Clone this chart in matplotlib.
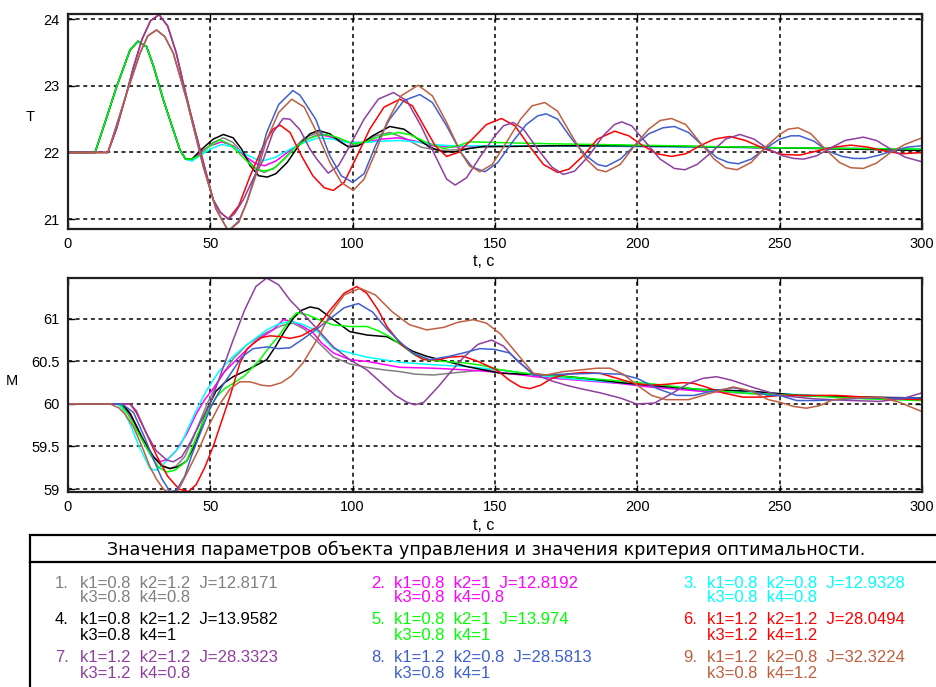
import matplotlib
matplotlib.use("Agg")
import matplotlib.pyplot as plt
from matplotlib.patches import Rectangle
from matplotlib.lines import Line2D

W, H = 937, 687

# ---- series styling / legend content ----
colors = ['#808080', '#ff00ff', '#00ffff', '#000000', '#00ff00',
          '#ff0000', '#8f3f9f', '#3f5fcf', '#bf5f3f']
params_line1 = ['k1=0.8  k2=1.2  J=12.8171', 'k1=0.8  k2=1  J=12.8192', 'k1=0.8  k2=0.8  J=12.9328',
                'k1=0.8  k2=1.2  J=13.9582', 'k1=0.8  k2=1  J=13.974', 'k1=1.2  k2=1.2  J=28.0494',
                'k1=1.2  k2=1.2  J=28.3323', 'k1=1.2  k2=0.8  J=28.5813', 'k1=1.2  k2=0.8  J=32.3224']
params_line2 = ['k3=0.8  k4=0.8', 'k3=0.8  k4=0.8', 'k3=0.8  k4=0.8',
                'k3=0.8  k4=1', 'k3=0.8  k4=1', 'k3=1.2  k4=1.2',
                'k3=1.2  k4=0.8', 'k3=0.8  k4=1', 'k3=0.8  k4=1.2']
legend_title = 'Значения параметров объекта управления и значения критерия оптимальности.'

# ---- temperature T(t) ----
hump_t = [0, 9.5, 13, 17.1, 21.8, 24.6, 27.6, 30, 33.5, 36.5, 39.3, 41.3]
hump_T = [22, 22, 22.45, 22.99, 23.54, 23.67, 23.59, 23.3, 22.79, 22.4, 22.04, 21.9]

tT1 = hump_t + [43.5, 47, 51, 54.6, 58, 62, 66, 69, 73, 78, 83, 88, 93, 98, 103, 108, 113, 118, 124, 130, 136, 145, 160, 200, 250, 300]
T1 = hump_T + [21.88, 22.0, 22.15, 22.22, 22.15, 21.95, 21.75, 21.7, 21.78, 22.0, 22.22, 22.3, 22.22, 22.1, 22.12, 22.25, 22.3, 22.22, 22.08, 22.03, 22.04, 22.08, 22.1, 22.1, 22.07, 22.04]

tT2 = hump_t + [43.5, 47, 50, 54, 58, 62, 66, 69, 73, 78, 83, 88, 93, 98, 104, 110, 116, 122, 128, 134, 145, 170, 200, 250, 300]
T2 = hump_T + [21.88, 22.02, 22.1, 22.16, 22.1, 21.95, 21.83, 21.8, 21.87, 22.03, 22.18, 22.27, 22.23, 22.15, 22.15, 22.2, 22.22, 22.17, 22.1, 22.08, 22.1, 22.1, 22.09, 22.07, 22.05]

tT3 = hump_t + [43.5, 47, 50, 54, 58, 62, 66, 69, 73, 78, 83, 88, 93, 98, 104, 110, 116, 122, 128, 135, 145, 170, 200, 250, 300]
T3 = hump_T + [21.87, 21.97, 22.05, 22.12, 22.08, 21.98, 21.9, 21.88, 21.93, 22.05, 22.15, 22.22, 22.2, 22.15, 22.15, 22.17, 22.18, 22.16, 22.12, 22.1, 22.1, 22.1, 22.09, 22.07, 22.05]

tT4 = hump_t + [43.5, 47, 51, 54.6, 58, 61, 64, 67, 70, 73, 77, 81, 85, 88, 92, 95, 98.6, 102, 107, 113, 118, 123, 127, 131.8, 136, 141, 146, 155, 170, 200, 250, 300]
T4 = hump_T + [21.9, 22.05, 22.2, 22.27, 22.22, 22.05, 21.8, 21.65, 21.63, 21.68, 21.85, 22.1, 22.28, 22.33, 22.28, 22.18, 22.08, 22.1, 22.25, 22.39, 22.35, 22.2, 22.08, 22.01, 22.01, 22.06, 22.09, 22.09, 22.1, 22.1, 22.07, 22.03]

tT5 = hump_t + [43.4, 46, 49, 53.4, 57, 61, 65, 68.6, 72, 76, 80, 84, 87.4, 91, 95, 100, 104, 110, 116, 120, 126, 132, 137, 141, 150, 170, 200, 250, 300]
T5 = hump_T + [21.9, 21.95, 22.07, 22.19, 22.12, 21.95, 21.78, 21.72, 21.75, 21.9, 22.08, 22.2, 22.25, 22.27, 22.22, 22.13, 22.15, 22.25, 22.3, 22.27, 22.15, 22.06, 22.1, 22.16, 22.15, 22.13, 22.11, 22.07, 22.05]

big_t = [0, 14, 17, 20, 23, 26, 29, 32, 35, 38, 40.5, 43, 46.4, 51, 53.5, 56.3]
big_T = [22, 22, 22.35, 22.8, 23.28, 23.7, 23.98, 24.07, 23.9, 23.5, 23.04, 22.6, 22.04, 21.29, 21.1, 21.0]

tT6 = big_t + [60, 64, 68.6, 72, 74.5, 78, 82, 86, 90, 93.2, 97, 101, 106, 111, 116.6, 121, 125, 129, 133, 137, 142, 147, 152.3, 157, 162, 167, 172, 176, 181, 186, 192, 197, 202, 207, 212, 217, 222, 227, 232.5, 238, 245, 251, 257, 263, 269, 275, 281, 287, 293, 300]
T6 = big_T + [21.2, 21.65, 22.1, 22.35, 22.41, 22.3, 21.95, 21.65, 21.47, 21.43, 21.55, 21.9, 22.35, 22.68, 22.8, 22.7, 22.4, 22.1, 21.94, 22.0, 22.2, 22.42, 22.51, 22.4, 22.1, 21.82, 21.7, 21.75, 21.95, 22.2, 22.32, 22.25, 22.1, 21.98, 21.94, 21.98, 22.1, 22.2, 22.24, 22.18, 22.05, 21.97, 21.96, 22.02, 22.08, 22.11, 22.08, 22.02, 21.98, 22.0]

tT7 = big_t + [58.5, 61.6, 65, 68.6, 72, 75.6, 78, 81.5, 85, 87.4, 91.4, 95, 99, 104, 109, 114.3, 119, 124, 129, 133, 136, 140, 145, 150, 153, 156.4, 160, 165, 170, 174, 178, 183, 188, 192, 194.5, 198, 203, 208, 213, 216.7, 221, 226, 231, 236, 241, 246, 251, 255, 258.5, 263, 268, 273, 279.4, 284, 289, 294, 300]
T7 = big_T + [21.08, 21.29, 21.6, 21.89, 22.3, 22.51, 22.5, 22.34, 22.05, 21.9, 21.69, 21.8, 22.1, 22.5, 22.8, 22.9, 22.78, 22.4, 21.95, 21.6, 21.51, 21.62, 21.95, 22.25, 22.4, 22.45, 22.35, 22.05, 21.78, 21.67, 21.72, 21.95, 22.25, 22.42, 22.46, 22.4, 22.15, 21.9, 21.76, 21.74, 21.82, 22.0, 22.2, 22.27, 22.2, 22.05, 21.95, 21.91, 21.9, 21.95, 22.07, 22.18, 22.23, 22.18, 22.05, 21.93, 21.86]

brown_t = [0, 14, 17, 20.6, 25.3, 28, 31.1, 34, 37, 41.7, 47.5, 52, 56.3]
brown_T = [22, 22, 22.4, 22.89, 23.49, 23.75, 23.84, 23.74, 23.49, 22.79, 21.79, 21.15, 20.82]

tT8 = brown_t + [60, 62.8, 66, 69.8, 74, 79, 81.5, 87, 92, 96, 100, 104, 108, 113, 118, 123.6, 128, 133, 138, 142, 146.5, 151, 156, 161, 165, 168, 172, 177, 182, 186, 189, 194, 199, 204, 209, 213, 218, 223, 228, 232, 235.5, 240, 245, 250, 254, 257, 262, 267, 272, 276, 280, 285, 290, 295, 300]
T8 = brown_T + [20.97, 21.25, 21.7, 22.3, 22.72, 22.93, 22.86, 22.5, 21.95, 21.65, 21.55, 21.68, 22.1, 22.5, 22.78, 22.87, 22.75, 22.4, 22.0, 21.78, 21.71, 21.85, 22.15, 22.42, 22.55, 22.58, 22.5, 22.2, 21.95, 21.82, 21.79, 21.9, 22.1, 22.28, 22.37, 22.39, 22.3, 22.1, 21.92, 21.85, 21.83, 21.9, 22.06, 22.2, 22.25, 22.25, 22.17, 22.02, 21.94, 21.91, 21.91, 21.96, 22.03, 22.08, 22.1]

tT9 = brown_t + [60, 62.8, 66, 69.8, 74, 78.6, 83, 87.4, 92, 96, 100.2, 104, 108, 112, 117, 123, 128, 133, 138, 141, 144.7, 149, 154, 159, 163, 167.5, 172, 177, 182, 186, 189, 194, 199, 204, 208, 212, 217, 222, 227, 231, 235, 240, 245, 250, 253, 256.5, 261, 266, 271, 275, 279.4, 284, 289, 294, 300]
T9 = brown_T + [20.95, 21.25, 21.65, 22.19, 22.6, 22.8, 22.68, 22.3, 21.85, 21.55, 21.43, 21.6, 22.0, 22.45, 22.85, 23.01, 22.85, 22.45, 22.0, 21.8, 21.71, 21.82, 22.15, 22.5, 22.7, 22.75, 22.62, 22.25, 21.9, 21.74, 21.71, 21.82, 22.1, 22.35, 22.48, 22.51, 22.42, 22.15, 21.9, 21.77, 21.74, 21.85, 22.08, 22.27, 22.35, 22.37, 22.28, 22.05, 21.85, 21.77, 21.76, 21.84, 22.0, 22.12, 22.22]

# ---- moisture M(t) ----
tM1 = [0, 18, 21, 24, 27, 30, 33, 35.8, 38, 41, 44, 47, 49, 53, 58, 63, 69.8, 75, 79, 83, 88, 93.2, 99, 105, 111, 116.6, 122, 128.4, 134, 140, 146, 152, 160, 170, 180, 194, 204, 222, 240, 257, 280, 300]
M1 = [60, 60, 59.93, 59.75, 59.55, 59.38, 59.28, 59.24, 59.27, 59.38, 59.6, 59.85, 60.01, 60.28, 60.53, 60.7, 60.84, 60.92, 60.95, 60.88, 60.72, 60.55, 60.47, 60.43, 60.4, 60.38, 60.35, 60.34, 60.36, 60.38, 60.4, 60.4, 60.36, 60.33, 60.3, 60.25, 60.21, 60.16, 60.13, 60.1, 60.08, 60.06]

tM2 = [0, 18, 20, 23, 26.5, 30, 32.3, 35, 38, 41.7, 45, 48, 51, 55, 60.4, 66, 72, 75.6, 79, 83, 86, 89, 93.2, 99, 105, 116.6, 128.4, 140, 152, 164, 175, 194, 204, 222, 250, 275, 300]
M2 = [60, 60, 59.95, 59.8, 59.55, 59.37, 59.32, 59.35, 59.45, 59.65, 59.88, 60.05, 60.18, 60.38, 60.56, 60.74, 60.87, 60.99, 60.97, 60.9, 60.84, 60.72, 60.6, 60.52, 60.5, 60.43, 60.42, 60.4, 60.37, 60.32, 60.29, 60.24, 60.2, 60.15, 60.11, 60.08, 60.05]

tM3 = [0, 17, 19, 22, 25, 28.8, 31, 33.7, 36, 39.3, 42, 45, 48.7, 53, 58, 63, 69.8, 74, 78, 82, 87.4, 93.2, 99, 105, 116.6, 128.4, 140, 152, 164, 175, 194, 204, 222, 250, 275, 300]
M3 = [60, 60, 59.95, 59.75, 59.5, 59.24, 59.22, 59.3, 59.38, 59.5, 59.7, 59.92, 60.16, 60.38, 60.56, 60.7, 60.87, 60.94, 60.97, 60.94, 60.86, 60.65, 60.6, 60.55, 60.49, 60.46, 60.44, 60.4, 60.34, 60.3, 60.25, 60.22, 60.17, 60.12, 60.08, 60.06]

tM4 = [0, 19, 22, 26, 30, 33, 35.8, 38.5, 41.7, 45, 49, 52, 55, 58, 63, 67, 69.8, 73, 76, 79.2, 82, 85, 88, 92, 99, 105, 112, 116, 121, 126, 133, 140, 146, 152, 160, 170, 182, 194, 204, 222, 240, 257, 280, 300]
M4 = [60, 60, 59.88, 59.6, 59.38, 59.27, 59.24, 59.26, 59.33, 59.55, 59.95, 60.15, 60.25, 60.32, 60.4, 60.47, 60.52, 60.68, 60.85, 61.01, 61.1, 61.14, 61.12, 61.02, 60.85, 60.81, 60.79, 60.72, 60.62, 60.56, 60.5, 60.44, 60.4, 60.36, 60.35, 60.34, 60.3, 60.25, 60.22, 60.17, 60.15, 60.1, 60.08, 60.07]

tM5 = [0, 18.3, 21, 25.3, 29, 32, 34.7, 37.5, 41.7, 45, 48.7, 52, 55, 58, 62, 67.4, 71, 74.5, 77.5, 80.3, 84, 87.4, 93, 99, 105, 109, 113, 118, 122, 126, 132, 140, 146, 152, 163, 175, 194, 204, 222, 240, 257, 280, 300]
M5 = [60, 60, 59.88, 59.62, 59.4, 59.25, 59.2, 59.22, 59.33, 59.6, 59.89, 60.08, 60.18, 60.24, 60.33, 60.52, 60.68, 60.82, 60.97, 61.07, 61.05, 61.0, 60.93, 60.91, 60.91, 60.86, 60.79, 60.67, 60.57, 60.52, 60.5, 60.48, 60.45, 60.4, 60.35, 60.32, 60.27, 60.24, 60.17, 60.12, 60.1, 60.06, 60.04]

tM6 = [0, 21.8, 24, 27.6, 31, 35, 39, 42.3, 45, 48, 51, 54, 57, 60.4, 63, 65.1, 68, 71, 75, 78, 82, 87.4, 92, 97, 101.4, 105, 109, 112, 117, 121, 124.8, 130, 134, 138.9, 144, 150.6, 155, 159, 162.3, 166, 170, 175, 181, 187, 193, 199, 204.4, 210, 216, 220, 224, 230, 237, 244, 250, 260, 270, 280, 290, 300]
M6 = [60, 60, 59.9, 59.65, 59.4, 59.15, 59.0, 58.97, 59.05, 59.25, 59.5, 59.8, 60.1, 60.48, 60.65, 60.71, 60.78, 60.8, 60.79, 60.77, 60.8, 60.9, 61.1, 61.3, 61.38, 61.3, 61.1, 60.91, 60.7, 60.6, 60.52, 60.52, 60.55, 60.56, 60.5, 60.4, 60.28, 60.2, 60.18, 60.22, 60.3, 60.35, 60.37, 60.36, 60.3, 60.24, 60.22, 60.23, 60.25, 60.24, 60.2, 60.13, 60.08, 60.08, 60.1, 60.1, 60.1, 60.08, 60.06, 60.05]

tM7 = [0, 21.8, 24, 27.6, 31, 34.7, 37, 40, 43, 46, 50, 54, 58, 62, 66, 69.8, 74, 78, 81.5, 87, 93.2, 99, 105, 110, 115, 119, 121.9, 125, 130, 134, 139, 144, 148.8, 153, 158, 163.5, 170, 175, 180, 187, 194, 199.7, 206, 212, 218, 223, 227.8, 233, 241, 250, 262, 275, 285, 293, 300]
M7 = [60, 60, 59.92, 59.65, 59.45, 59.34, 59.32, 59.38, 59.55, 59.75, 60.01, 60.38, 60.75, 61.1, 61.38, 61.48, 61.4, 61.22, 61.1, 60.9, 60.67, 60.52, 60.4, 60.25, 60.1, 60.02, 59.99, 60.02, 60.2, 60.36, 60.55, 60.7, 60.75, 60.68, 60.5, 60.35, 60.27, 60.22, 60.18, 60.13, 60.07, 60.0, 60.01, 60.12, 60.24, 60.3, 60.32, 60.28, 60.19, 60.1, 60.06, 60.04, 60.03, 60.06, 60.13]

tM8 = [0, 19, 23, 27, 30, 33, 35.8, 38, 41, 43.5, 46.4, 50, 54, 58, 61, 65, 70, 74, 78, 82, 87, 92, 97, 102, 107, 112, 116.6, 121, 127, 134, 139, 144.7, 150, 155, 160, 163.5, 168, 175, 185, 194, 200, 207, 213.8, 220, 226, 233.7, 240, 246, 250, 256, 263, 270, 280, 290, 300]
M8 = [60, 60, 59.9, 59.6, 59.35, 59.12, 58.97, 58.98, 59.15, 59.4, 59.65, 59.95, 60.2, 60.4, 60.55, 60.65, 60.67, 60.65, 60.66, 60.75, 60.87, 61.0, 61.13, 61.18, 61.08, 60.88, 60.73, 60.6, 60.52, 60.56, 60.6, 60.65, 60.64, 60.6, 60.45, 60.34, 60.34, 60.35, 60.36, 60.35, 60.3, 60.18, 60.1, 60.1, 60.15, 60.19, 60.15, 60.1, 60.1, 60.04, 60.04, 60.05, 60.07, 60.07, 60.07]

tM9 = [0, 14.8, 18, 20, 23, 26, 28.8, 31, 33.5, 35.8, 38.5, 42, 46.4, 50, 53.4, 57, 60.4, 64, 68, 71, 75, 78.5, 82.5, 87.4, 92, 97, 102.6, 108, 114, 120, 126, 132, 137, 142.4, 147, 152, 158, 163.5, 168, 174, 180, 186, 190.4, 195, 200, 205, 210, 218, 225, 233.7, 240, 246, 250, 255, 259.4, 264, 268.8, 275, 285, 292, 300]
M9 = [60, 60, 59.95, 59.88, 59.73, 59.5, 59.26, 59.12, 59.0, 58.95, 58.97, 59.2, 59.5, 59.78, 60.0, 60.18, 60.26, 60.26, 60.22, 60.21, 60.25, 60.33, 60.48, 60.75, 61.05, 61.28, 61.36, 61.28, 61.08, 60.93, 60.87, 60.9, 60.96, 60.99, 60.95, 60.82, 60.58, 60.36, 60.34, 60.38, 60.4, 60.42, 60.42, 60.35, 60.22, 60.1, 60.05, 60.05, 60.12, 60.2, 60.15, 60.05, 60.02, 59.97, 59.95, 59.98, 60.05, 60.07, 60.08, 60.02, 59.91]

T_series = [(tT1, T1), (tT2, T2), (tT3, T3), (tT4, T4), (tT5, T5),
            (tT6, T6), (tT7, T7), (tT8, T8), (tT9, T9)]
M_series = [(tM1, M1), (tM2, M2), (tM3, M3), (tM4, M4), (tM5, M5),
            (tM6, M6), (tM7, M7), (tM8, M8), (tM9, M9)]

x_ticks = [0, 50, 100, 150, 200, 250, 300]
T_ticks = [21, 22, 23, 24]
M_ticks = [59, 59.5, 60, 60.5, 61]
M_ticklabels = ['59', '59.5', '60', '60.5', '61']

plt.rcParams['font.family'] = ['Liberation Sans', 'DejaVu Sans']
fig = plt.figure(figsize=(W / 100, H / 100), dpi=100)
fig.patch.set_facecolor('white')


def fx(x):
    return x / W


def fy(y):
    return 1 - y / H


def box(left, top, right, bottom):
    return [fx(left), fy(bottom), fx(right) - fx(left), fy(top) - fy(bottom)]


def style_axes(ax, yticks, yticklabels, ylim):
    ax.set_xlim(0, 300)
    ax.set_ylim(*ylim)
    ax.set_xticks(x_ticks)
    ax.set_yticks(yticks)
    ax.set_yticklabels(yticklabels)
    ax.grid(True, color='black', linestyle=(0, (2.6, 2.4)), linewidth=1.1)
    ax.tick_params(direction='in', length=5, width=1.0, top=True, right=True,
                   labelsize=10.5, pad=6, colors='black')
    for s in ax.spines.values():
        s.set_linewidth(1.6)
        s.set_color('#202020')


ax1 = fig.add_axes(box(68, 14, 922, 229))
for (t, v), c in zip(T_series, colors):
    ax1.plot(t, v, color=c, linewidth=1.1)
style_axes(ax1, T_ticks, [str(v) for v in T_ticks], (20.85, 24.08))

ax2 = fig.add_axes(box(68, 278, 922, 492))
for (t, v), c in zip(M_series, colors):
    ax2.plot(t, v, color=c, linewidth=1.1)
style_axes(ax2, M_ticks, M_ticklabels, (58.965, 61.48))

fig.text(fx(30), fy(117), 'T', fontsize=10.5, ha='center', va='center')
fig.text(fx(12), fy(381), 'M', fontsize=10.5, ha='center', va='center')
fig.text(fx(484), fy(262), 't, c', fontsize=11.5, ha='center', va='center')
fig.text(fx(484), fy(526), 't, c', fontsize=11.5, ha='center', va='center')

# parameter table
fig.add_artist(Rectangle((fx(30), fy(700)), fx(930), fy(535) - fy(700),
                         transform=fig.transFigure, fill=False,
                         edgecolor='black', linewidth=1.6))
fig.add_artist(Line2D([fx(30), fx(940)], [fy(562), fy(562)],
                      transform=fig.transFigure, color='black', linewidth=1.6))
fig.text(fx(486), fy(550), legend_title, fontsize=12.6, ha='center', va='center',
         family='DejaVu Sans')

col_num_x = [55, 371, 683]
col_txt_x = [80, 394, 707]
row_y = [(583, 598), (620, 635), (658, 673)]
for i in range(9):
    r, c = divmod(i, 3)
    y1, y2 = row_y[r]
    fig.text(fx(col_num_x[c]), fy(y1), f'{i + 1}.', color=colors[i], fontsize=12,
             ha='left', va='center')
    fig.text(fx(col_txt_x[c]), fy(y1), params_line1[i], color=colors[i], fontsize=12,
             ha='left', va='center')
    fig.text(fx(col_txt_x[c]), fy(y2), params_line2[i], color=colors[i], fontsize=12,
             ha='left', va='center')

fig.savefig('out.png', dpi=100, facecolor='white')
